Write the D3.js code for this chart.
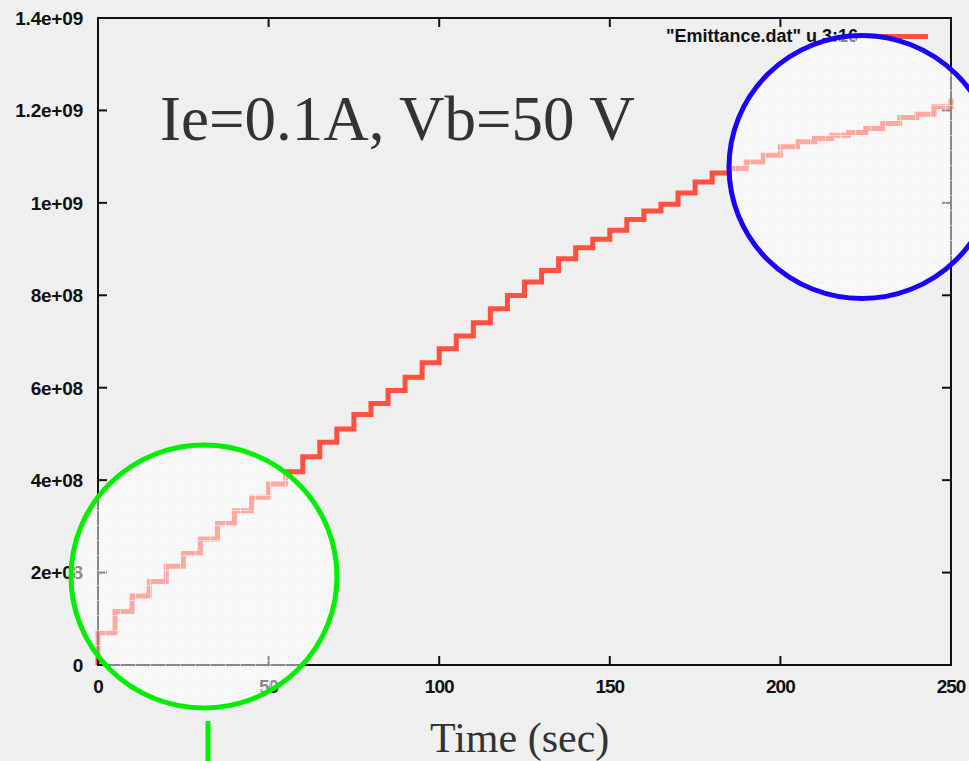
<!DOCTYPE html>
<html>
<head>
<meta charset="utf-8">
<script src="https://cdn.jsdelivr.net/npm/d3@7/dist/d3.min.js"></script>
<style>
  html, body { margin: 0; padding: 0; background: #efefef; }
  svg { display: block; }
</style>
</head>
<body>
<svg id="chart" width="969" height="761"></svg>
<script>
// Emittance vs time, one value per 5 s step (units of 1e8)
const stepSeconds = 5;
const emittance = [
  0.700, 1.155, 1.495, 1.805, 2.135, 2.412, 2.724, 3.062, 3.338, 3.630,
  3.916, 4.183, 4.508, 4.818, 5.108, 5.418, 5.657, 5.938, 6.227, 6.539,
  6.842, 7.120, 7.406, 7.709, 7.997, 8.286, 8.539, 8.793, 9.031, 9.211,
  9.406, 9.638, 9.824, 9.970, 10.215, 10.453, 10.648, 10.743, 10.886, 11.032,
  11.212, 11.320, 11.393, 11.465, 11.524, 11.610, 11.719, 11.849, 11.920, 12.078,
  12.260
];
const xTicks = [0, 50, 100, 150, 200, 250];
const yTicks = [0, 2, 4, 6, 8, 10, 12, 14];
const yTickLabels = ["0", "2e+08", "4e+08", "6e+08", "8e+08", "1e+09", "1.2e+09", "1.4e+09"];
const legendLabel = "\"Emittance.dat\" u 3:16";
const titleText = "Ie=0.1A, Vb=50 V";
const xAxisTitle = "Time (sec)";

const svg = d3.select("#chart");
const plot = { left: 98, right: 951, top: 18, bottom: 665 };

const x = d3.scaleLinear().domain([0, 250]).range([plot.left, plot.right]);
const y = d3.scaleLinear().domain([0, 14]).range([plot.bottom, plot.top]);

// background
svg.append("rect").attr("width", 969).attr("height", 761).attr("fill", "#efefef");

// staircase: starts at the origin, rises at t=0, then steps every 5 s
const pts = [[0, 0]].concat(emittance.map((v, i) => [i * stepSeconds, v]));
const line = d3.line()
  .x(d => x(d[0]))
  .y(d => y(d[1]))
  .curve(d3.curveStepAfter);

svg.append("path")
  .datum(pts)
  .attr("d", line)
  .attr("fill", "none")
  .attr("stroke", "#ff5040")
  .attr("stroke-width", 5)
  .attr("stroke-linejoin", "miter");

// frame
const ink = "#111";
svg.append("rect")
  .attr("x", plot.left).attr("y", plot.top)
  .attr("width", plot.right - plot.left).attr("height", plot.bottom - plot.top)
  .attr("fill", "none").attr("stroke", ink).attr("stroke-width", 2);

// ticks (inward, mirrored on all sides)
const tickLen = 9;
const tg = svg.append("g").attr("stroke", ink).attr("stroke-width", 2);
yTicks.forEach(t => {
  tg.append("line").attr("x1", plot.left).attr("x2", plot.left + tickLen).attr("y1", y(t)).attr("y2", y(t));
  tg.append("line").attr("x1", plot.right).attr("x2", plot.right - tickLen).attr("y1", y(t)).attr("y2", y(t));
});
xTicks.forEach(t => {
  tg.append("line").attr("x1", x(t)).attr("x2", x(t)).attr("y1", plot.bottom).attr("y2", plot.bottom - tickLen);
  tg.append("line").attr("x1", x(t)).attr("x2", x(t)).attr("y1", plot.top).attr("y2", plot.top + tickLen);
});

// tick labels
const tickFont = "'Liberation Sans', Arial, sans-serif";
svg.append("g").selectAll("text").data(yTicks).join("text")
  .attr("x", 83).attr("y", d => y(d))
  .attr("dy", "0.36em")
  .attr("text-anchor", "end")
  .attr("font-family", tickFont).attr("font-weight", "bold").attr("font-size", 19)
  .attr("letter-spacing", -0.2)
  .attr("fill", "#111")
  .text((d, i) => yTickLabels[i]);

svg.append("g").selectAll("text").data(xTicks).join("text")
  .attr("x", d => x(d)).attr("y", 693)
  .attr("text-anchor", "middle")
  .attr("font-family", tickFont).attr("font-weight", "bold").attr("font-size", 19)
  .attr("letter-spacing", -1)
  .attr("fill", "#111")
  .text(d => d);

// key
svg.append("text")
  .attr("x", 858).attr("y", 42)
  .attr("text-anchor", "end")
  .attr("font-family", tickFont).attr("font-weight", "bold").attr("font-size", 18)
  .attr("fill", "#111")
  .text(legendLabel);
svg.append("line")
  .attr("x1", 869).attr("x2", 928).attr("y1", 36.5).attr("y2", 36.5)
  .attr("stroke", "#ff5040").attr("stroke-width", 5);

// annotation texts
svg.append("text")
  .attr("x", 160).attr("y", 140)
  .attr("font-family", "'Liberation Serif', 'Times New Roman', serif")
  .attr("font-size", 63)
  .attr("fill", "#333")
  .text(titleText);

svg.append("text")
  .attr("x", 430).attr("y", 752)
  .attr("font-family", "'Liberation Serif', 'Times New Roman', serif")
  .attr("font-size", 42)
  .attr("fill", "#333")
  .text(xAxisTitle);

// highlight rings with a pale wash and fine white grid inside
const rings = [
  { cx: 204, cy: 576.5, rx: 133, ry: 131.5, color: "#00ee00" },
  { cx: 862, cy: 167, rx: 133, ry: 131.5, color: "#1a00ff" }
];
const defs = svg.append("defs");
const pat = defs.append("pattern")
  .attr("id", "washGrid").attr("patternUnits", "userSpaceOnUse")
  .attr("width", 15).attr("height", 15);
pat.append("rect").attr("width", 15).attr("height", 15).attr("fill", "#ffffff").attr("fill-opacity", 0.5);
pat.append("path").attr("d", "M0 0.5H15M0.5 0V15")
  .attr("stroke", "#ffffff").attr("stroke-opacity", 0.55).attr("stroke-width", 1);

rings.forEach(r => {
  svg.append("ellipse")
    .attr("cx", r.cx).attr("cy", r.cy).attr("rx", r.rx).attr("ry", r.ry)
    .attr("fill", "url(#washGrid)")
    .attr("stroke", r.color).attr("stroke-width", 5);
});

// green pointer below the lower ring
svg.append("line")
  .attr("x1", 208).attr("x2", 208).attr("y1", 721).attr("y2", 761)
  .attr("stroke", "#00ee00").attr("stroke-width", 5);
</script>
</body>
</html>
